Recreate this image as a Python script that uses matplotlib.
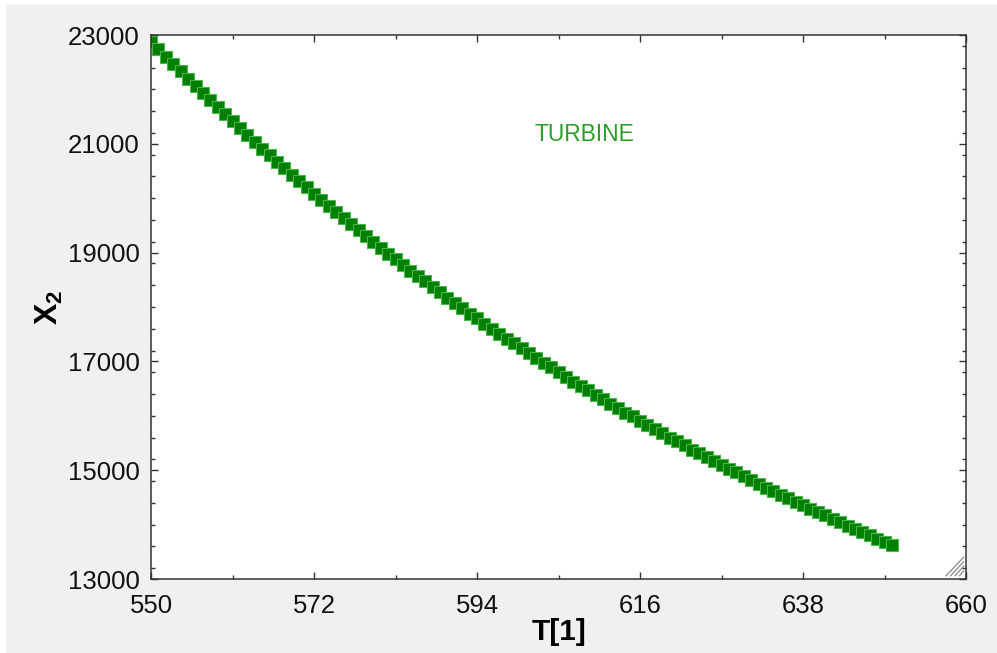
import numpy as np
import matplotlib.pyplot as plt
from matplotlib.ticker import MultipleLocator
from matplotlib.patches import Rectangle

plt.rcParams['font.family'] = ['Liberation Sans', 'DejaVu Sans']
plt.rcParams['mathtext.fontset'] = 'custom'
plt.rcParams['mathtext.rm'] = 'Liberation Sans'
plt.rcParams['mathtext.bf'] = 'Liberation Sans:bold'

# turbine temperature sweep
T1 = np.arange(550, 651)
X2 = [22880, 22740, 22600, 22460, 22330, 22190, 22060, 21930, 21800, 21670, 21540, 21410, 21290, 21160, 21040, 20910,
      20790, 20670, 20550, 20430, 20310, 20200, 20080, 19970, 19850, 19740, 19630, 19520, 19410, 19300, 19190, 19090,
      18980, 18880, 18770, 18670, 18570, 18470, 18370, 18270, 18170, 18070, 17980, 17880, 17790, 17690, 17600, 17510,
      17420, 17330, 17240, 17150, 17060, 16970, 16890, 16800, 16720, 16630, 16550, 16470, 16380, 16300, 16220,
      16140, 16060, 15990, 15910, 15830, 15750, 15680, 15600, 15530, 15460, 15380, 15310, 15240, 15170, 15100, 15030,
      14960, 14890, 14820, 14750, 14680, 14620, 14550, 14490, 14420, 14360, 14290, 14230, 14170, 14100, 14040, 13980,
      13920, 13860, 13800, 13740, 13680, 13620]

xticks = [550, 572, 594, 616, 638, 660]
yticks = [13000, 15000, 17000, 19000, 21000, 23000]

fig = plt.figure(figsize=(9.97, 6.53), dpi=100, facecolor='#f0f0f0')
# thin white frame on the top and left edges
fig.patches.append(Rectangle((0, 0.9955), 1, 0.0045, transform=fig.transFigure, color='white', zorder=-1))
fig.patches.append(Rectangle((0, 0), 0.005, 1, transform=fig.transFigure, color='white', zorder=-1))

ax = fig.add_axes([0.1515, 0.1133, 0.8175, 0.8331])
ax.set_facecolor('white')

ax.plot(T1, X2, linestyle='none', marker='s', markersize=8,
        markerfacecolor='#008000', markeredgecolor='#4cb44c', markeredgewidth=0.8)

ax.text(608.5, 21170, 'TURBINE', color='#2a9d2a', fontsize=16.4, ha='center', va='center')

ax.set_xlim(550, 660)
ax.set_ylim(13000, 23000)
ax.set_xticks(xticks)
ax.set_yticks(yticks)
ax.xaxis.set_minor_locator(MultipleLocator(11))
ax.yaxis.set_minor_locator(MultipleLocator(400))
ax.tick_params(which='both', direction='in', top=True, right=True, color='#333333', width=1.0)
ax.tick_params(which='major', length=5, labelsize=18.5, labelcolor='#111111')
ax.tick_params(which='minor', length=3)
ax.tick_params(axis='x', pad=11)
ax.tick_params(axis='y', pad=8)
for sp in ax.spines.values():
    sp.set_color('#333333')
    sp.set_linewidth(1.1)

ax.set_xlabel('T[1]', fontsize=21.5, fontweight='bold', labelpad=0)
ax.set_ylabel(r'$\mathbf{X_2}$', fontsize=23, labelpad=2)

# resize grip in the corner
for k in range(4):
    d = 0.006 + k * 0.0055
    ax.plot([1 - d - 0.002, 1 - 0.003], [0.006, 0.006 + d * 1.52], transform=ax.transAxes,
            color='#888888', lw=0.9, clip_on=False)

fig.savefig('out.png', dpi=100, facecolor=fig.get_facecolor())
